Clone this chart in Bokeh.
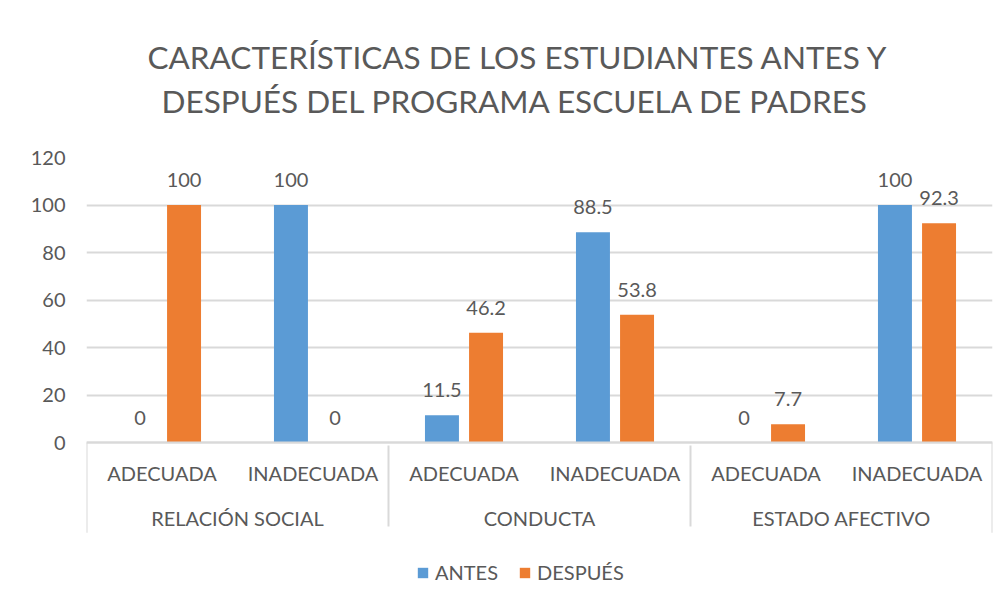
from bokeh.plotting import figure
from bokeh.models import FactorRange, Range1d, ColumnDataSource, Legend, LegendItem, Title, FixedTicker
from bokeh.transform import dodge
from bokeh.core.properties import value
from bokeh.embed import file_html
from bokeh.resources import INLINE

groups = ["RELACIÓN SOCIAL", "CONDUCTA", "ESTADO AFECTIVO"]
subcats = ["ADECUADA", "INADECUADA"]
antes = [0, 100, 11.5, 88.5, 0, 100]
despues = [100, 0, 46.2, 53.8, 7.7, 92.3]
series_names = ["ANTES", "DESPUÉS"]
colors = ["#5B9BD5", "#ED7D31"]
title_lines = ["CARACTERÍSTICAS DE LOS ESTUDIANTES ANTES Y",
               "DESPUÉS DEL PROGRAMA ESCUELA DE PADRES"]
y_ticks = [0, 20, 40, 60, 80, 100, 120]

FONT = "Lato"
TXT = "#595959"
GRID = "#d9d9d9"

# value axis: 120 units over 285 px; the plot area is extended below 0
# so that the category axis and the legend sit inside it
PX_PER_UNIT = 285 / 120
EXTRA_PX = 150
Y_MIN = -EXTRA_PX / PX_PER_UNIT

factors = [(g, s) for g in groups for s in subcats]
src = ColumnDataSource(dict(
    x=factors, antes=antes, despues=despues,
    antes_lbl=[f"{v:g}" for v in antes],
    despues_lbl=[f"{v:g}" for v in despues],
))

p = figure(
    x_range=FactorRange(*factors, group_padding=0, range_padding=0, factor_padding=0),
    y_range=Range1d(Y_MIN, 120),
    frame_width=906, frame_height=285 + EXTRA_PX,
    output_backend="svg", toolbar_location=None,
    min_border_left=86, min_border_right=10, min_border_top=157, min_border_bottom=0,
)
p.title = None

# spacer between plot area and title (closest to the frame)
p.add_layout(Title(text=" ", text_font=FONT, text_font_size="30px", standoff=0), "above")
p.add_layout(Title(text=title_lines[1], align="left", text_font=FONT, text_font_size="31.5px",
                   text_font_style="normal", text_color=TXT, offset=75, standoff=0), "above")
p.add_layout(Title(text=title_lines[0], align="left", text_font=FONT, text_font_size="31.5px",
                   text_font_style="normal", text_color=TXT, offset=61, standoff=8), "above")

off = 0.146
bw = 0.225
r1 = p.vbar(x=dodge("x", -off, range=p.x_range), top="antes", width=bw, source=src,
            color=colors[0], line_color=None)
r2 = p.vbar(x=dodge("x", off, range=p.x_range), top="despues", width=bw, source=src,
            color=colors[1], line_color=None)

for col, lbl, d in (("antes", "antes_lbl", -off), ("despues", "despues_lbl", off)):
    p.text(x=dodge("x", d, range=p.x_range), y=col, text=lbl, source=src,
           text_font=value(FONT), text_font_size="20px", text_color=TXT,
           text_align="center", text_baseline="alphabetic", y_offset=-25)

# outer edge separators of the category axis (Excel style)
edge_src = ColumnDataSource(dict(x=[factors[0], factors[-1]], d=[-0.5, 0.5]))
p.segment(x0=dodge("x", -0.5, range=p.x_range), x1=dodge("x", -0.5, range=p.x_range),
          y0=0, y1=-38, source=ColumnDataSource(dict(x=[factors[0]])),
          line_color=GRID, line_width=2)
p.segment(x0=dodge("x", 0.5, range=p.x_range), x1=dodge("x", 0.5, range=p.x_range),
          y0=0, y1=-38, source=ColumnDataSource(dict(x=[factors[-1]])),
          line_color=GRID, line_width=2)

# y axis
p.yaxis.ticker = FixedTicker(ticks=y_ticks)
p.yaxis.axis_line_color = None
p.yaxis.major_tick_line_color = None
p.yaxis.minor_tick_line_color = None
p.yaxis.major_tick_out = 0
p.yaxis.major_label_text_font = FONT
p.yaxis.major_label_text_font_size = "20px"
p.yaxis.major_label_text_color = TXT
p.yaxis.major_label_standoff = 21

# x axis, fixed at value 0
xa = p.xaxis[0]
xa.fixed_location = 0
xa.axis_line_color = GRID
xa.axis_line_width = 2
xa.major_tick_line_color = None
xa.minor_tick_line_color = None
xa.major_tick_out = 0
xa.major_label_text_font = FONT
xa.major_label_text_font_size = "20px"
xa.major_label_text_color = TXT
xa.major_label_standoff = 18
xa.group_text_font = FONT
xa.group_text_font_size = "20px"
xa.group_text_font_style = "normal"
xa.group_text_color = TXT
xa.separator_line_color = GRID
xa.separator_line_width = 2

p.xgrid.grid_line_color = None
p.ygrid.grid_line_color = GRID
p.ygrid.grid_line_width = 2
p.outline_line_color = None

legend = Legend(items=[LegendItem(label=series_names[0], renderers=[r1]),
                       LegendItem(label=series_names[1], renderers=[r2])],
                orientation="horizontal", location=(330, 8),
                label_text_font=FONT, label_text_font_size="20px", label_text_color=TXT,
                glyph_width=13, glyph_height=13, spacing=20, label_standoff=6,
                border_line_color=None, background_fill_alpha=0, margin=0, padding=4)
p.add_layout(legend, "center")

open("out.html", "w").write(file_html(p, INLINE))
